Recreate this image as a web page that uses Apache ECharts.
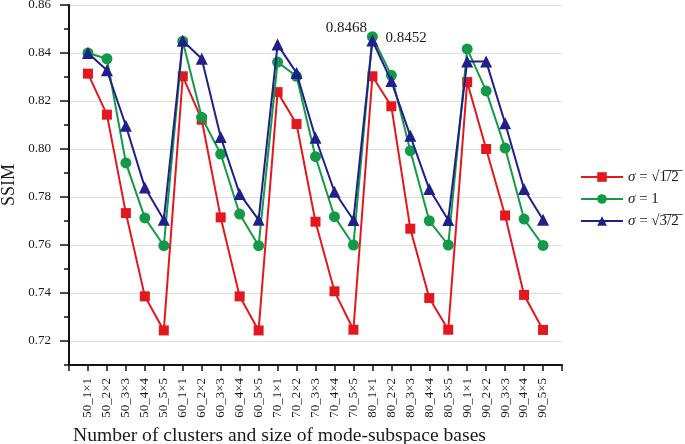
<!DOCTYPE html>
<html>
<head>
<meta charset="utf-8">
<script src="https://cdn.jsdelivr.net/npm/echarts@6/dist/echarts.min.js"></script>
<style>
html,body{margin:0;padding:0;background:#fff;}
#chart{width:685px;height:444px;}
</style>
</head>
<body>
<div id="chart"></div>
<script>
const categories = ['50_1×1','50_2×2','50_3×3','50_4×4','50_5×5',
  '60_1×1','60_2×2','60_3×3','60_4×4','60_5×5',
  '70_1×1','70_2×2','70_3×3','70_4×4','70_5×5',
  '80_1×1','80_2×2','80_3×3','80_4×4','80_5×5',
  '90_1×1','90_2×2','90_3×3','90_4×4','90_5×5'];
const sigmaHalf = [0.8314,0.8143,0.7733,0.7386,0.7244, 0.8303,0.8122,0.7715,0.7386,0.7244,
  0.8237,0.8104,0.7697,0.7407,0.7247, 0.8303,0.8178,0.7668,0.7379,0.7247,
  0.8279,0.8000,0.7723,0.7392,0.7246];
const sigmaOne = [0.8400,0.8376,0.7942,0.7713,0.7597, 0.8449,0.8132,0.7979,0.7729,0.7597,
  0.8362,0.8303,0.7968,0.7718,0.7600, 0.8468,0.8307,0.7993,0.7701,0.7600,
  0.8417,0.8242,0.8004,0.7708,0.7598];
const sigmaThreeHalf = [0.8400,0.8328,0.8097,0.7840,0.7705, 0.8451,0.8376,0.8050,0.7813,0.7705,
  0.8435,0.8317,0.8047,0.7822,0.7704, 0.8452,0.8283,0.8055,0.7833,0.7704,
  0.8365,0.8365,0.8107,0.7833,0.7705];
const yTickLabels = [0.72,0.74,0.76,0.78,0.80,0.82,0.84,0.86];
const seriesNames = ['s1','s2','s3'];
const legendTexts = ['{i|σ} = √1\u0305/\u03052\u0305', '{i|σ} = 1', '{i|σ} = √3\u0305/\u03052\u0305'];
const annotatedIndex = 15;

const FONT = 'Liberation Serif';
const TXT = '#1a1a1a';
const cats = [''].concat(categories, ['']);
function pad(arr){ return [null].concat(arr, [null]); }

function withLabel(arr, pos, dist, off){
  return pad(arr).map((v,i)=> i === annotatedIndex+1 ? {
    value: v,
    label: {show:true, position:pos, distance:dist, offset:off, formatter: String(v.toFixed(4)),
      fontFamily:FONT, fontSize:15, color:TXT}
  } : v);
}

const chart = echarts.init(document.getElementById('chart'), null, {renderer:'canvas'});
const colors = ['#e3171e','#139a48','#201f8b'];
chart.setOption({
  animation:false,
  backgroundColor:'#fff',
  grid:{left:69, right:123, top:5, bottom:79, containLabel:false, outerBoundsMode:'none'},
  title:{text:'Number of clusters and size of mode-subspace bases', left:68, top:421,
    textStyle:{fontFamily:FONT, fontSize:19.6, fontWeight:'normal', color:TXT}},
  legend:{
    orient:'vertical', left:575, top:164, itemWidth:42, itemHeight:12, itemGap:6,
    data:seriesNames,
    formatter:(name)=> legendTexts[seriesNames.indexOf(name)],
    textStyle:{fontFamily:FONT, fontSize:15, color:TXT, lineHeight:16,
      rich:{i:{fontFamily:FONT, fontSize:15, fontStyle:'italic', color:TXT}}}
  },
  xAxis:{
    type:'category', data:cats, boundaryGap:false,
    axisLine:{lineStyle:{color:'#111', width:2}},
    axisTick:{show:true, interval:0, length:6, lineStyle:{color:'#111', width:1.5}},
    axisLabel:{interval:0, rotate:90, margin:13, fontFamily:FONT, fontSize:13, color:TXT},
    splitLine:{show:false}
  },
  yAxis:[{
    type:'value', min:0.71, max:0.86, interval:0.01,
    name:'SSIM', nameLocation:'middle', nameGap:51,
    nameTextStyle:{fontFamily:FONT, fontSize:18, color:TXT},
    axisLine:{show:true, lineStyle:{color:'#111', width:2}},
    axisTick:{show:true, length:5, lineStyle:{color:'#111', width:1.5}},
    axisLabel:{show:false},
    splitLine:{show:true, lineStyle:{color:['rgba(0,0,0,0)','#dedede'], width:1}}
  },{
    type:'value', min:0.71, max:0.86, position:'left',
    axisLine:{show:false},
    axisTick:{show:true, length:9, customValues:yTickLabels, lineStyle:{color:'#111', width:1.5}},
    axisLabel:{show:true, customValues:yTickLabels, margin:18, fontFamily:FONT, fontSize:13, color:TXT,
      formatter:(v)=> v.toFixed(2)},
    splitLine:{show:false}
  }],
  series:[
    {name:seriesNames[0], type:'line', data:pad(sigmaHalf), symbol:'rect', symbolSize:10,
     itemStyle:{color:colors[0]}, lineStyle:{color:colors[0], width:2}, z:3},
    {name:seriesNames[1], type:'line', data:withLabel(sigmaOne,'left',0,[0,-9]), symbol:'circle', symbolSize:11,
     itemStyle:{color:colors[1]}, lineStyle:{color:colors[1], width:2}, z:4},
    {name:seriesNames[2], type:'line', data:withLabel(sigmaThreeHalf,'right',7,[0,-2]), symbol:'triangle', symbolSize:12,
     itemStyle:{color:colors[2]}, lineStyle:{color:colors[2], width:2}, z:5}
  ]
});
</script>
</body>
</html>
